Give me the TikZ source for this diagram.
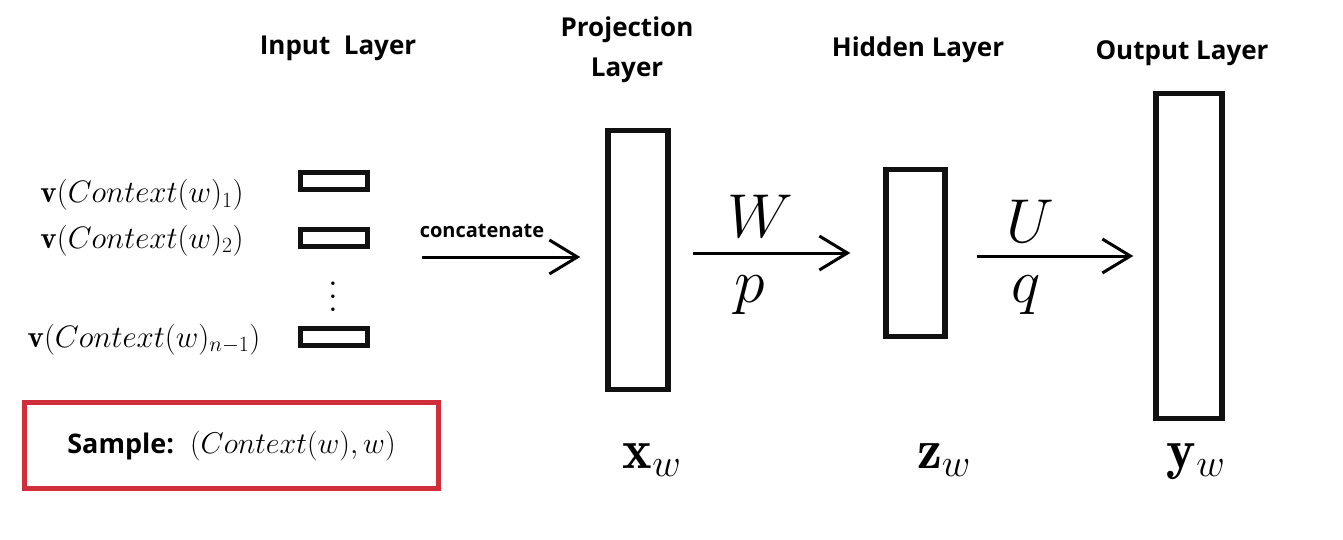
\RequirePackage{fix-cm}
\documentclass[tikz,border=0pt]{standalone}
\usepackage{amsmath,amssymb}
\usepackage{fontspec}
\setsansfont{Open Sans}
\usepackage{tikz}
\usetikzlibrary{arrows.meta}
\definecolor{samplered}{HTML}{CF2E3A}
\definecolor{boxblack}{HTML}{111111}

\begin{document}
\begin{tikzpicture}[x=1pt,y=-1pt,
  title/.style={font=\sffamily\bfseries\fontsize{26}{40}\selectfont,align=center},
  ctxlabel/.style={font=\fontsize{31}{36}\selectfont,anchor=base},
  wordbox/.style={draw=boxblack,line width=5pt,minimum width=67pt,minimum height=17pt,inner sep=0pt},
  layerbox/.style={draw=boxblack,line width=5.5pt,inner sep=0pt},
  flow/.style={line width=3pt,-{Straight Barb[length=28pt,width=34pt]}},
  weightlabel/.style={font=\fontsize{62}{70}\selectfont,anchor=base},
  veclabel/.style={font=\fontsize{56}{60}\selectfont,anchor=base}]
\useasboundingbox (0,0) rectangle (1343,540);
% layer titles
\node[title] (tin) at (338,48) {Input~~Layer};
\node[title] (tproj) at (627,50) {Projection\\Layer};
\node[title] (thid) at (918,50) {Hidden Layer};
\node[title] (tout) at (1182,53) {Output Layer};
% input layer
\node[ctxlabel] (c1) at (142,203) {$\mathbf{v}(Context(w)_1)$};
\node[ctxlabel] (c2) at (142,248) {$\mathbf{v}(Context(w)_2)$};
\node[ctxlabel] (c3) at (144,347) {$\mathbf{v}(Context(w)_{n-1})$};
\node[wordbox] (b1) at (334,181) {};
\node[wordbox] (b2) at (334,238) {};
\node[scale=3.3,inner sep=0pt] (dots) at (333,287) {$\vdots$};
\node[wordbox] (b3) at (334,337) {};
% layers
\node[layerbox,minimum width=60pt,minimum height=259pt] (proj) at (638,260) {};
\node[layerbox,minimum width=59pt,minimum height=167pt] (hid) at (915.5,253) {};
\node[layerbox,minimum width=66pt,minimum height=325pt] (out) at (1189,256) {};
% connectors
\coordinate (cat) at (422,257);
\node[font=\sffamily\bfseries\fontsize{20}{24}\selectfont] (catlbl) at (482,231) {concatenate};
\draw[flow,shorten >=25pt] (cat) -- (cat -| proj.west);
\draw[flow,shorten <=22pt,shorten >=33pt] (proj.east |- hid.west) -- (hid.west);
\draw[flow,shorten <=29pt,shorten >=20pt] (hid.east |- out.west) -- (out.west);
\node[weightlabel] (wl) at (760,237) {$W$};
\node[weightlabel] (pl) at (750,302) {$p$};
\node[weightlabel] (ul) at (1030,242) {$U$};
\node[weightlabel] (ql) at (1026,302) {$q$};
% vectors
\node[veclabel] (xw) at (652,468) {$\mathbf{x}_w$};
\node[veclabel] (zw) at (944,468) {$\mathbf{z}_w$};
\node[veclabel] (yw) at (1196,468) {$\mathbf{y}_w$};
% sample
\node[draw=samplered,line width=5pt,minimum width=414pt,minimum height=86pt,inner sep=0pt] (sample) at (231.5,445.5)
  {{\sffamily\bfseries\fontsize{27}{30}\selectfont Sample:}\hspace{16pt}{\fontsize{30}{36}\selectfont$(Context(w),w)$}};
\end{tikzpicture}
\end{document}
